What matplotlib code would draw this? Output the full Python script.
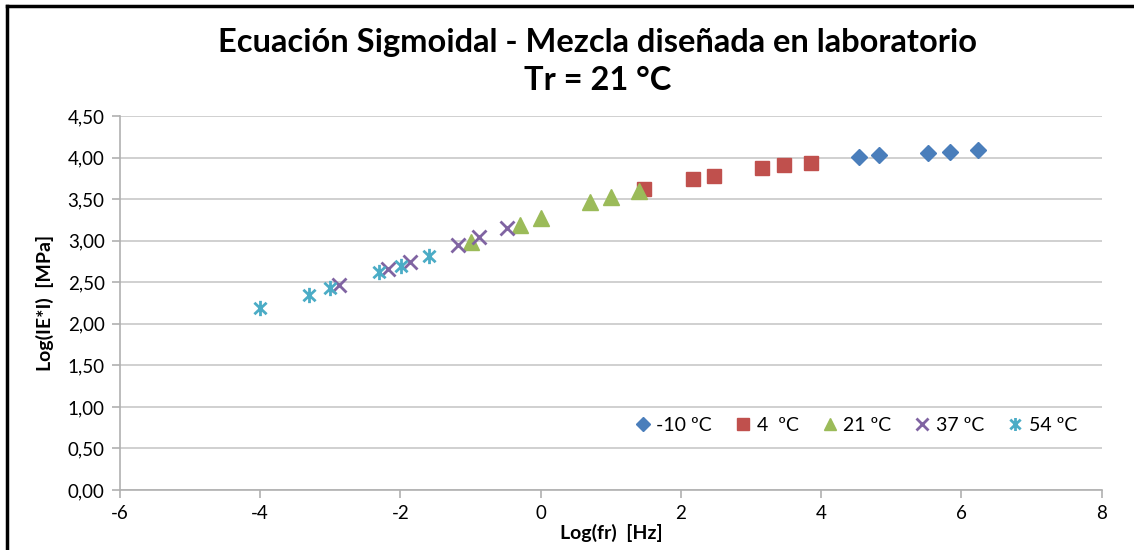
import matplotlib
matplotlib.use("Agg")
import matplotlib.pyplot as plt
from matplotlib.path import Path
from matplotlib.lines import Line2D
from matplotlib.ticker import FuncFormatter

plt.rcParams['font.family'] = ['Lato', 'DejaVu Sans']
plt.rcParams['axes.unicode_minus'] = False

# Data: log(fr) [Hz] and log(|E*|) [MPa] per test temperature
x_m10 = [4.54, 4.83, 5.53, 5.84, 6.23]
y_m10 = [4.01, 4.03, 4.06, 4.07, 4.09]

x_4 = [1.47, 2.17, 2.47, 3.16, 3.47, 3.86]
y_4 = [3.62, 3.74, 3.78, 3.88, 3.91, 3.94]

x_21 = [-1.00, -0.30, 0.00, 0.70, 1.00, 1.40]
y_21 = [2.99, 3.19, 3.27, 3.46, 3.52, 3.60]

x_37 = [-2.88, -2.18, -1.87, -1.18, -0.88, -0.48]
y_37 = [2.47, 2.66, 2.74, 2.95, 3.04, 3.15]

x_54 = [-4.00, -3.30, -3.00, -2.30, -1.99, -1.60]
y_54 = [2.19, 2.35, 2.43, 2.62, 2.70, 2.82]

labels = ['-10 ºC', '4  ºC', '21 ºC', '37 ºC', '54 ºC']
colors = ['#4A7EBB', '#C0504D', '#9BBB59', '#8064A2', '#4BACC6']

star = Path([(0, -1), (0, 1), (-0.8, -0.75), (0.8, 0.75), (-0.8, 0.75), (0.8, -0.75)],
            [Path.MOVETO, Path.LINETO, Path.MOVETO, Path.LINETO, Path.MOVETO, Path.LINETO])

fig = plt.figure(figsize=(11.34, 5.5), dpi=100)
ax = fig.add_axes([0.1058, 0.1091, 0.8657, 0.6799])

ax.plot(x_m10, y_m10, linestyle='none', marker='D', ms=8.5, color=colors[0], label=labels[0])
ax.plot(x_4, y_4, linestyle='none', marker='s', ms=10.5, color=colors[1], label=labels[1])
ax.plot(x_21, y_21, linestyle='none', marker='^', ms=11, color=colors[2], label=labels[2])
ax.plot(x_37, y_37, linestyle='none', marker='x', ms=9.5, mew=2, color=colors[3], label=labels[3])
ax.plot(x_54, y_54, linestyle='none', marker=star, ms=11, mew=2, mfc='none', color=colors[4], label=labels[4])

ax.set_xlim(-6, 8)
ax.set_ylim(0, 4.5)
ax.set_xticks(range(-6, 9, 2))
ax.set_yticks([i * 0.5 for i in range(10)])
ax.yaxis.set_major_formatter(FuncFormatter(lambda v, p: f"{v:.2f}".replace('.', ',')))
ax.grid(axis='y', color='#C8C8C8', linewidth=1.2)
ax.set_axisbelow(True)
for s in ['top', 'right']:
    ax.spines[s].set_visible(False)
for s in ['left', 'bottom']:
    ax.spines[s].set_color('#B0B0B0')
    ax.spines[s].set_linewidth(1.2)
ax.tick_params(axis='both', direction='out', length=6, color='#B0B0B0', width=1.2,
               labelsize=13.5, labelcolor='black', pad=5)

ax.set_xlabel('Log(fr)  [Hz]', fontsize=14, fontweight='bold', labelpad=1)
ax.set_ylabel('Log(IE*I)  [MPa]', fontsize=14, fontweight='bold', labelpad=10)

fig.text(0.527, 0.9236, 'Ecuación Sigmoidal - Mezcla diseñada en laboratorio',
         ha='center', va='center', fontsize=23.5, fontweight='bold')
fig.text(0.527, 0.8545, 'Tr = 21 °C', ha='center', va='center', fontsize=23.5, fontweight='bold')

leg = ax.legend(loc='center right', bbox_to_anchor=(0.993, 0.172), ncol=5, frameon=False,
                fontsize=14, handletextpad=0.2, columnspacing=1.1, handlelength=1.0,
                markerscale=0.85)

# figure border (left and top visible)
fig.add_artist(Line2D([7 / 1134, 7 / 1134], [-0.1, 1 - 6 / 550], transform=fig.transFigure,
                      color='black', linewidth=2.5))
fig.add_artist(Line2D([7 / 1134, 1.1], [1 - 6 / 550, 1 - 6 / 550], transform=fig.transFigure,
                      color='black', linewidth=2.5))

fig.savefig('out.png', dpi=100)
